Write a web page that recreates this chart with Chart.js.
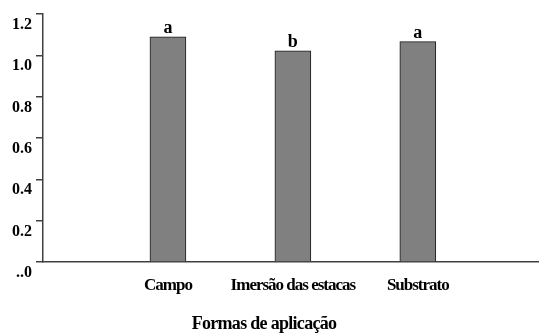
<!DOCTYPE html>
<html>
<head>
<meta charset="utf-8">
<script src="https://cdn.jsdelivr.net/npm/chart.js@4.4.1/dist/chart.umd.min.js"></script>
<style>
  html, body { margin: 0; padding: 0; background: #ffffff; }
  #wrap { width: 539px; height: 336px; position: relative; }
</style>
</head>
<body>
<div id="wrap"><canvas id="chart"></canvas></div>
<script>
// Categories, means and significance letters
const categories = ['Campo', 'Imersão das estacas', 'Substrato'];
const values = [1.090, 1.022, 1.066];
const sigLetters = ['a', 'b', 'a'];
const yTicks = [0, 0.2, 0.4, 0.6, 0.8, 1.0, 1.2];
const yTickLabels = ['..0', '0.2', '0.4', '0.6', '0.8', '1.0', '1.2'];
const xTitle = 'Formas de aplicação';

const FONT = "'Liberation Serif', 'Times New Roman', serif";
const AXIS = '#404040';

// bars sit at positions 1, 2, 3 on a linear x scale
const points = values.map((v, i) => ({ x: i + 1, y: v }));

// tighter letter spacing for the category labels
function tightLabels(scale, spacing) {
  if (scale._tight) return;
  scale._tight = true;
  const orig = scale.drawLabels;
  scale.drawLabels = function (area) {
    const ctx = this.ctx;
    ctx.save();
    ctx.letterSpacing = spacing;
    orig.call(this, area);
    ctx.restore();
  };
}

// letters above bars + axis title
const annotate = {
  id: 'annotate',
  afterDatasetsDraw(chart) {
    const ctx = chart.ctx;
    const meta = chart.getDatasetMeta(0);
    ctx.save();
    ctx.fillStyle = '#000';
    ctx.font = 'bold 18px ' + FONT;
    ctx.textAlign = 'center';
    ctx.textBaseline = 'alphabetic';
    meta.data.forEach((bar, i) => {
      ctx.fillText(sigLetters[i], bar.x, bar.y - 4);
    });
    ctx.font = 'bold 18px ' + FONT;
    ctx.letterSpacing = '-0.7px';
    ctx.fillText(xTitle, 264, 328.5);
    ctx.restore();
  }
};

new Chart(document.getElementById('chart'), {
  type: 'bar',
  data: {
    datasets: [{
      data: points,
      backgroundColor: '#808080',
      borderColor: '#1a1a1a',
      borderWidth: 1,
      barThickness: 36
    }]
  },
  options: {
    responsive: true,
    maintainAspectRatio: false,
    animation: false,
    layout: { padding: { top: 14, left: 0, right: 0, bottom: 0 } },
    plugins: { legend: { display: false }, tooltip: { enabled: false } },
    scales: {
      x: {
        type: 'linear',
        offset: false,
        min: 0,
        max: 3.97,
        afterFit(s) { s.height = 74; tightLabels(s, '-1px'); },
        afterBuildTicks(s) { s.ticks = categories.map((c, i) => ({ value: i + 1 })); },
        grid: { display: false, offset: false },
        border: { display: true, color: AXIS, width: 1.5 },
        ticks: {
          color: '#000',
          padding: 5,
          maxRotation: 0,
          autoSkip: false,
          font: { family: FONT, size: 17, weight: 'bold' },
          callback: (v) => categories[Math.round(v) - 1]
        }
      },
      y: {
        min: 0,
        max: 1.2,
        afterFit(s) { s.width = 43; },
        afterBuildTicks(s) { s.ticks = yTicks.map(v => ({ value: v })); },
        grid: { drawOnChartArea: false, drawTicks: true, tickLength: 7, color: AXIS, lineWidth: 1.5 },
        border: { display: true, color: AXIS, width: 1.5 },
        ticks: {
          color: '#000',
          padding: 4,
          labelOffset: 11,
          font: { family: FONT, size: 16, weight: 'bold' },
          callback: (v) => yTickLabels[yTicks.findIndex(t => Math.abs(t - v) < 1e-6)]
        }
      }
    }
  },
  plugins: [annotate]
});
</script>
</body>
</html>
